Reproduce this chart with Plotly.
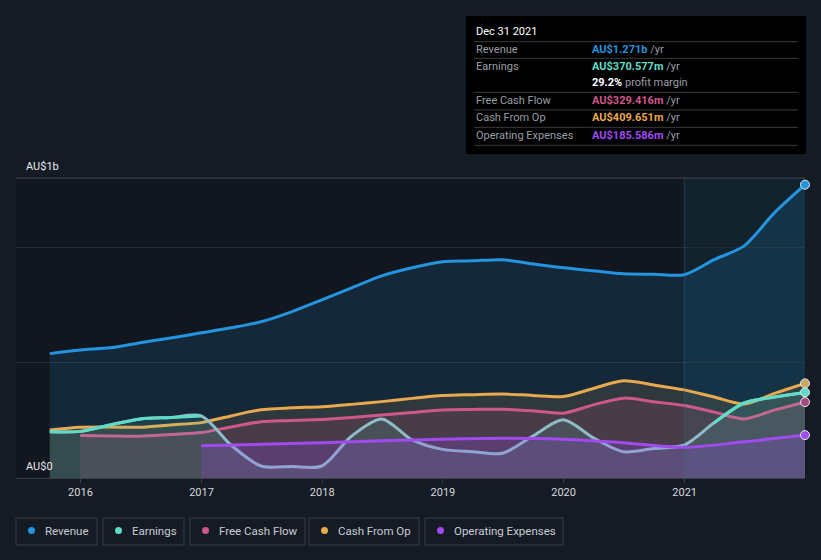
import plotly.graph_objects as go

# ---------------- data (AU$ billions) ----------------
quarters = ["2015-09-30", "2015-12-31", "2016-03-31", "2016-06-30", "2016-09-30", "2016-12-31",
            "2017-03-31", "2017-06-30", "2017-09-30", "2017-12-31", "2018-03-31", "2018-06-30",
            "2018-09-30", "2018-12-31", "2019-03-31", "2019-06-30", "2019-09-30", "2019-12-31",
            "2020-03-31", "2020-06-30", "2020-09-30", "2020-12-31", "2021-03-31", "2021-06-30",
            "2021-09-30", "2021-12-31"]
fcf_quarters = quarters[1:]
opex_periods = ["2016-12-31", "2017-06-30", "2017-12-31", "2018-06-30", "2018-12-31", "2019-06-30",
                "2019-12-31", "2020-06-30", "2020-12-31", "2021-06-30", "2021-12-31"]

revenue = [0.539, 0.555, 0.564, 0.586, 0.607, 0.629, 0.651, 0.677, 0.720, 0.772, 0.824, 0.876,
           0.911, 0.937, 0.941, 0.946, 0.928, 0.911, 0.898, 0.885, 0.883, 0.881, 0.946, 1.006,
           1.150, 1.271]
earnings = [0.200, 0.202, 0.230, 0.256, 0.262, 0.269, 0.143, 0.052, 0.050, 0.052, 0.182, 0.256,
            0.165, 0.124, 0.114, 0.107, 0.182, 0.252, 0.174, 0.114, 0.128, 0.143, 0.239, 0.325,
            0.351, 0.371]
free_cash_flow = [0.184, 0.182, 0.181, 0.189, 0.197, 0.221, 0.244, 0.249, 0.254, 0.262, 0.273,
                  0.284, 0.295, 0.297, 0.298, 0.291, 0.281, 0.317, 0.346, 0.330, 0.314, 0.286,
                  0.256, 0.295, 0.329]
cash_from_op = [0.208, 0.220, 0.221, 0.220, 0.230, 0.240, 0.269, 0.296, 0.304, 0.309, 0.319,
                0.331, 0.345, 0.357, 0.361, 0.364, 0.358, 0.353, 0.388, 0.421, 0.403, 0.382,
                0.351, 0.321, 0.367, 0.410]
operating_expenses = [0.140, 0.146, 0.153, 0.161, 0.168, 0.172, 0.168, 0.153, 0.133, 0.157, 0.186]

series_names = ["Revenue", "Earnings", "Free Cash Flow", "Cash From Op", "Operating Expenses"]
series_colors = ["#2394df", "#5fdcc6", "#d0578a", "#e9a94f", "#a04af0"]
tooltip_date = "Dec 31 2021"
tooltip_values = ["AU$1.271b", "AU$370.577m", "AU$329.416m", "AU$409.651m", "AU$185.586m"]
profit_margin = "29.2%"
y_labels = ["AU$1b", "AU$0"]

# ---------------- layout helpers ----------------
W, H = 821, 560
ML, MR, MT, MB = 16, 16, 178, 82
PW, PH = W - ML - MR, H - MT - MB
BG = "#151b25"
FONT = "Roboto"


def px(X):
    return (X - ML) / PW


def py(Y):
    return (H - MB - Y) / PH


fig = go.Figure()

fill_alpha = {"Revenue": 0.15, "Earnings": 0.13, "Free Cash Flow": 0.15,
              "Cash From Op": 0.13, "Operating Expenses": 0.22}


def rgba(hexc, a):
    h = hexc.lstrip("#")
    return "rgba(%d,%d,%d,%.2f)" % (int(h[0:2], 16), int(h[2:4], 16), int(h[4:6], 16), a)


def add_series(x, y, name, color, line_color=None):
    fig.add_trace(go.Scatter(
        x=x, y=y, name=name, mode="lines", fill="tozeroy",
        fillcolor=rgba(color, fill_alpha[name]),
        line=dict(color=line_color or color, width=3, shape="spline", smoothing=0.8),
        hoverinfo="skip", showlegend=False))


add_series(quarters, revenue, "Revenue", series_colors[0])
add_series(quarters, cash_from_op, "Cash From Op", series_colors[3])
add_series(fcf_quarters, free_cash_flow, "Free Cash Flow", series_colors[2])
add_series(quarters, earnings, "Earnings", series_colors[1], line_color="#8fbcc8")

# teal overlay where earnings are high (colour varies with level in reference)
runs, cur = [], []
for i, v in enumerate(earnings):
    if v >= 0.195:
        cur.append(i)
    else:
        if len(cur) > 1:
            runs.append(cur)
        cur = []
if len(cur) > 1:
    runs.append(cur)
for r in runs:
    fig.add_trace(go.Scatter(
        x=[quarters[i] for i in r], y=[earnings[i] for i in r], mode="lines",
        line=dict(color=series_colors[1], width=3, shape="spline", smoothing=0.8),
        hoverinfo="skip", showlegend=False))

add_series(opex_periods, operating_expenses, "Operating Expenses", series_colors[4])

# end markers
ends = [(quarters[-1], revenue[-1], series_colors[0]),
        (quarters[-1], cash_from_op[-1], "#c9a860"),
        (quarters[-1], earnings[-1], series_colors[1]),
        (fcf_quarters[-1], free_cash_flow[-1], "#a84a80"),
        (opex_periods[-1], operating_expenses[-1], series_colors[4])]
for xe, ye, c in ends:
    fig.add_trace(go.Scatter(x=[xe], y=[ye], mode="markers",
                             marker=dict(size=9, color=c, line=dict(color="#e8eaf0", width=1)),
                             hoverinfo="skip", showlegend=False, cliponaxis=False))

shapes = []
# highlighted last year
shapes.append(dict(type="rect", xref="x", yref="paper", x0="2020-12-31", x1="2021-12-31",
                   y0=0, y1=1, fillcolor="rgba(25,120,150,0.13)", line=dict(width=0), layer="below"))
shapes.append(dict(type="line", xref="x", yref="paper", x0="2020-12-31", x1="2020-12-31",
                   y0=0, y1=1, line=dict(color="rgba(40,110,140,0.45)", width=1), layer="above"))
# top border line
shapes.append(dict(type="line", xref="paper", yref="paper", x0=0, x1=1, y0=1, y1=1,
                   line=dict(color="#41464e", width=1)))

annotations = []
annotations.append(dict(xref="paper", yref="paper", x=px(24), y=py(166), xanchor="left",
                        yanchor="middle", text=y_labels[0], showarrow=False,
                        font=dict(family=FONT, size=11, color="#e6e8ec")))
annotations.append(dict(xref="paper", yref="paper", x=px(24), y=py(466), xanchor="left",
                        yanchor="middle", text=y_labels[1], showarrow=False,
                        font=dict(family=FONT, size=11, color="#e6e8ec")))

# tooltip box
shapes.append(dict(type="rect", xref="paper", yref="paper", x0=px(466), x1=px(806),
                   y0=py(154), y1=py(16), fillcolor="#000000", line=dict(width=0)))
for Y in [41.7, 58.3, 92.3, 110, 127.3, 145.3]:
    shapes.append(dict(type="line", xref="paper", yref="paper", x0=px(474), x1=px(798),
                       y0=py(Y), y1=py(Y), line=dict(color="#3a3b3e", width=1)))
annotations.append(dict(xref="paper", yref="paper", x=px(474), y=py(31), xanchor="left",
                        yanchor="middle", text=tooltip_date, showarrow=False,
                        font=dict(family=FONT, size=11, color="#ffffff")))
row_y = [49.3, 66, 100, 117.7, 135.3]
for name, val, col, Y in zip(series_names, tooltip_values, series_colors, row_y):
    annotations.append(dict(xref="paper", yref="paper", x=px(474), y=py(Y), xanchor="left",
                            yanchor="middle", text=name, showarrow=False,
                            font=dict(family=FONT, size=11, color="#9a9ea5")))
    annotations.append(dict(xref="paper", yref="paper", x=px(590), y=py(Y), xanchor="left",
                            yanchor="middle",
                            text="<b><span style='color:%s'>%s</span></b> /yr" % (col, val),
                            showarrow=False, font=dict(family=FONT, size=11, color="#9a9ea5")))
annotations.append(dict(xref="paper", yref="paper", x=px(590), y=py(82.7), xanchor="left",
                        yanchor="middle",
                        text="<b><span style='color:#ffffff'>%s</span></b> profit margin" % profit_margin,
                        showarrow=False, font=dict(family=FONT, size=11, color="#9a9ea5")))

# custom legend
box_l = [16, 103, 190, 309, 425]
box_r = [97, 184, 305, 419, 563]
for name, col, l, r in zip(series_names, series_colors, box_l, box_r):
    shapes.append(dict(type="rect", xref="paper", yref="paper", x0=px(l), x1=px(r),
                       y0=py(545), y1=py(518), line=dict(color="#383d47", width=1),
                       fillcolor="rgba(0,0,0,0)"))
    cx = l + 15.5
    shapes.append(dict(type="circle", xref="paper", yref="paper", x0=px(cx - 3.5), x1=px(cx + 3.5),
                       y0=py(534), y1=py(527), fillcolor=col, line=dict(width=0)))
    annotations.append(dict(xref="paper", yref="paper", x=px(l + 27), y=py(530.5), xanchor="left",
                            yanchor="middle", text=name, showarrow=False,
                            font=dict(family=FONT, size=11.5, color="#c8ccd2")))

fig.update_layout(
    width=W, height=H,
    margin=dict(l=ML, r=MR, t=MT, b=MB),
    paper_bgcolor=BG, plot_bgcolor="#12161e",
    showlegend=False,
    shapes=shapes, annotations=annotations,
    font=dict(family=FONT, color="#d0d3d8"),
    xaxis=dict(type="date", range=["2015-06-20", "2021-12-31"], tickformat="%Y",
               tick0="2016-01-01", dtick="M12", showgrid=False, zeroline=False,
               showline=True, linecolor="#3a3f48", linewidth=1,
               ticks="outside", ticklen=4, tickcolor="#3a3f48",
               tickfont=dict(family=FONT, size=11, color="#d6d8dc")),
    yaxis=dict(range=[0, 1.3], tickvals=[0, 0.5, 1.0], showticklabels=False,
               showgrid=True, gridcolor="#262c36", gridwidth=1, zeroline=False,
               showline=False),
    hovermode=False,
)

fig.write_html("out.html",
               config={"displayModeBar": False},
               post_script="document.body.style.margin='0';"
                           "document.body.style.padding='0';"
                           "document.body.style.background='%s';" % BG)
